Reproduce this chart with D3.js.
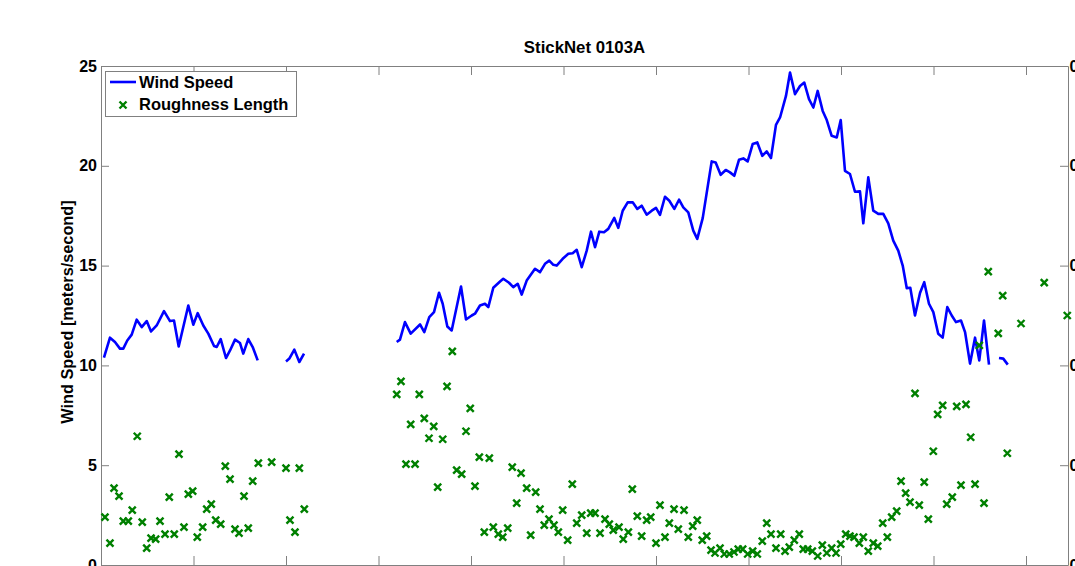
<!DOCTYPE html>
<html>
<head>
<meta charset="utf-8">
<script src="https://cdn.jsdelivr.net/npm/d3@7"></script>
<style>
  html, body { margin: 0; padding: 0; background: #fff; }
  svg { display: block; font-family: "Liberation Sans", Arial, sans-serif; }
</style>
</head>
<body>
<svg id="chart" width="1075" height="566"></svg>
<script>
// Elapsed time (hours) and 1-min wind speed (m/s); null marks missing records
const windHours = [
  0.032, 0.097, 0.151, 0.205, 0.241, 0.284, 0.332, 0.386, 0.440, 0.494, 0.541, 0.602,
  0.681, 0.746, 0.789, 0.840, 0.944, 0.998, 1.045, 1.106, 1.160, 1.222, 1.251, 1.294,
  1.351, 1.395, 1.449, 1.503, 1.538, 1.592, 1.640, 1.694, 1.770,
  1.845, 1.920,
  2.000, 2.036, 2.090, 2.144, 2.195, 2.700,
  3.197, 3.232, 3.286, 3.348, 3.449, 3.495, 3.549, 3.600, 3.654, 3.694, 3.744, 3.791,
  3.892, 3.946, 4.008, 4.043, 4.097, 4.151, 4.187, 4.241, 4.314, 4.349, 4.411, 4.457,
  4.505, 4.548, 4.602, 4.692, 4.746, 4.800, 4.846, 4.890, 4.926, 4.991, 5.052, 5.099,
  5.143, 5.197, 5.251, 5.297, 5.341, 5.387, 5.438, 5.484, 5.549, 5.592, 5.640, 5.694,
  5.748, 5.798, 5.845, 5.899, 5.954, 6.000, 6.043, 6.097, 6.144, 6.198, 6.249, 6.295,
  6.349, 6.403, 6.446, 6.505, 6.602, 6.645, 6.699, 6.754, 6.800, 6.846, 6.897, 6.944,
  6.991, 7.045, 7.095, 7.149, 7.197, 7.243, 7.297, 7.341, 7.405, 7.449, 7.503, 7.557,
  7.603, 7.654, 7.701, 7.748, 7.802, 7.846, 7.899, 7.954, 7.997, 8.043, 8.097, 8.151,
  8.205, 8.241, 8.295, 8.349, 8.403, 8.457, 8.511, 8.565, 8.619, 8.667, 8.711, 8.749,
  8.800, 8.854, 8.900, 8.951, 8.998, 9.051, 9.099, 9.149, 9.197, 9.243, 9.297, 9.341,
  9.395, 9.449, 9.495, 9.546, 9.600, 9.650,
  9.708, 9.754, 9.803, 9.870,
  9.946, 10.080,
  10.205, 10.300
];
const windSpeed = [
  10.39, 11.39, 11.17, 10.84, 10.84, 11.25, 11.54, 12.29, 11.92, 12.22, 11.70, 12.00,
  12.72, 12.22, 12.25, 10.95, 13.00, 12.04, 12.62, 12.00, 11.59, 10.97, 10.92, 11.32,
  10.37, 10.75, 11.29, 11.12, 10.59, 11.32, 10.92, 10.25, null,
  10.17, null,
  10.20, 10.34, 10.79, 10.17, 10.59, null,
  11.17, 11.29, 12.17, 11.59, 12.05, 11.67, 12.42, 12.67, 13.64, 13.09, 11.95, 11.75,
  13.95, 12.30, 12.50, 12.59, 13.00, 13.09, 12.92, 13.89, 14.20, 14.34, 14.14, 13.92,
  14.09, 13.55, 14.25, 14.84, 14.67, 15.09, 15.25, 15.04, 15.00, 15.34, 15.59, 15.62,
  15.79, 14.92, 15.75, 16.70, 15.92, 16.70, 16.67, 16.84, 17.39, 16.89, 17.75, 18.17,
  18.17, 17.84, 18.00, 17.55, 17.75, 17.89, 17.54, 18.45, 18.25, 17.84, 18.30, 17.92,
  17.67, 16.75, 16.34, 17.38, 20.22, 20.17, 19.55, 19.79, 19.67, 19.50, 20.30, 20.37,
  20.22, 21.09, 21.17, 20.50, 20.72, 20.39, 22.05, 22.42, 23.50, 24.67, 23.59, 24.00,
  24.17, 23.34, 22.92, 23.75, 22.75, 22.29, 21.50, 21.42, 22.29, 19.75, 19.59, 18.70,
  18.72, 17.12, 19.42, 17.75, 17.59, 17.59, 17.12, 16.25, 15.75, 15.00, 13.87, 13.89,
  12.50, 13.63, 14.17, 13.09, 12.67, 11.59, 11.39, 12.92, 12.50, 12.17, 12.25, 11.67,
  10.09, 11.39, 10.25, 12.25, 10.04, null,
  10.37, 10.34, 10.04, null,
  10.75, null,
  10.12, null
];

// Elapsed time (hours) and estimated surface roughness length (m)
const roughHours = [
  0.043, 0.097, 0.141, 0.195, 0.241, 0.295, 0.338, 0.392, 0.446, 0.494, 0.541, 0.591,
  0.638, 0.692, 0.738, 0.792, 0.843, 0.897, 0.944, 0.991, 1.041, 1.099, 1.143, 1.192,
  1.240, 1.294, 1.344, 1.395, 1.449, 1.492, 1.546, 1.592, 1.640, 1.701, 1.845, 2.000,
  2.043, 2.097, 2.144, 2.198,
  3.197, 3.243, 3.297, 3.348, 3.395, 3.441, 3.495, 3.546, 3.597, 3.640, 3.694, 3.741,
  3.798, 3.845, 3.899, 3.946, 3.992, 4.043, 4.090, 4.144, 4.198, 4.241, 4.295, 4.343,
  4.397, 4.446, 4.494, 4.541, 4.602, 4.645, 4.699, 4.746, 4.792, 4.843, 4.897, 4.944,
  4.991, 5.045, 5.095, 5.143, 5.197, 5.251, 5.294, 5.341, 5.395, 5.449, 5.495, 5.538,
  5.600, 5.646, 5.701, 5.744, 5.798, 5.845, 5.899, 5.943, 6.000, 6.043, 6.097, 6.144,
  6.195, 6.241, 6.303, 6.349, 6.397, 6.446, 6.500, 6.548, 6.595, 6.638, 6.692, 6.738,
  6.792, 6.843, 6.889, 6.937, 6.991, 7.045, 7.095, 7.149, 7.197, 7.243, 7.297, 7.348,
  7.395, 7.441, 7.495, 7.549, 7.592, 7.640, 7.690, 7.748, 7.798, 7.846, 7.899, 7.946,
  7.997, 8.051, 8.097, 8.141, 8.198, 8.241, 8.295, 8.349, 8.397, 8.451, 8.501, 8.548,
  8.602, 8.649, 8.699, 8.746, 8.800, 8.846, 8.900, 8.944, 8.998, 9.045, 9.099, 9.143,
  9.203, 9.251, 9.297, 9.351, 9.402, 9.449, 9.495, 9.546, 9.592, 9.700, 9.748, 9.798,
  9.946, 10.197, 10.446
];
const roughLength = [
  0.048, 0.022, 0.077, 0.069, 0.044, 0.044, 0.055, 0.129, 0.043, 0.017, 0.027, 0.026,
  0.044, 0.031, 0.068, 0.031, 0.111, 0.038, 0.071, 0.074, 0.028, 0.038, 0.056, 0.061,
  0.045, 0.041, 0.099, 0.086, 0.036, 0.032, 0.069, 0.037, 0.084, 0.102, 0.103, 0.097,
  0.045, 0.033, 0.097, 0.056,
  0.171, 0.184, 0.101, 0.141, 0.101, 0.171, 0.147, 0.127, 0.139, 0.078, 0.126, 0.179,
  0.214, 0.095, 0.091, 0.134, 0.157, 0.079, 0.108, 0.033, 0.107, 0.038, 0.031, 0.028,
  0.037, 0.098, 0.062, 0.092, 0.077, 0.030, 0.073, 0.056, 0.040, 0.046, 0.040, 0.033,
  0.055, 0.025, 0.081, 0.042, 0.050, 0.032, 0.052, 0.052, 0.032, 0.046, 0.041, 0.035,
  0.038, 0.026, 0.033, 0.076, 0.049, 0.029, 0.045, 0.048, 0.022, 0.060, 0.028, 0.042,
  0.056, 0.036, 0.055, 0.028, 0.039, 0.045, 0.025, 0.029, 0.015, 0.012, 0.017, 0.011,
  0.011, 0.013, 0.016, 0.016, 0.011, 0.014, 0.011, 0.024, 0.042, 0.031, 0.017, 0.031,
  0.014, 0.018, 0.025, 0.031, 0.016, 0.016, 0.014, 0.009, 0.020, 0.012, 0.017, 0.012,
  0.021, 0.031, 0.029, 0.028, 0.022, 0.028, 0.014, 0.022, 0.019, 0.042, 0.028, 0.048,
  0.054, 0.084, 0.072, 0.063, 0.172, 0.060, 0.083, 0.046, 0.114, 0.151, 0.160, 0.061,
  0.068, 0.159, 0.080, 0.161, 0.128, 0.081, 0.220, 0.062, 0.294, 0.232, 0.270, 0.112,
  0.242, 0.283, 0.250
];

const xDomain = [0, 10.454];
const speedTicks = [0, 5, 10, 15, 20, 25];
const roughTicks = [0, 0.1, 0.2, 0.3, 0.4, 0.5];
const hourTicks = [0, 1, 2, 3, 4, 5, 6, 7, 8, 9, 10];

const plot = { left: 101, right: 1068, top: 66, bottom: 565 };
const axisGray = "#808080";

const svg = d3.select("#chart");
svg.append("rect").attr("width", 1075).attr("height", 566).attr("fill", "#fff");

const x = d3.scaleLinear().domain(xDomain).range([plot.left, plot.right]);
const y = d3.scaleLinear().domain([0, 25]).range([plot.bottom, plot.top]);
const yR = d3.scaleLinear().domain([0, 0.5]).range([plot.bottom, plot.top]);

function styleAxis(g) {
  g.select(".domain").attr("stroke", axisGray).attr("stroke-width", 1);
  g.selectAll(".tick line").attr("stroke", axisGray).attr("stroke-width", 1);
  g.selectAll(".tick text")
    .attr("fill", "#000")
    .attr("font-size", 16)
    .attr("font-weight", "bold")
    .attr("font-family", "Liberation Sans, Arial, sans-serif");
}

// Bottom and top axes: inward ticks, no visible labels
svg.append("g")
  .attr("transform", `translate(0,${plot.bottom})`)
  .call(d3.axisBottom(x).tickValues(hourTicks).tickSizeInner(-9).tickSizeOuter(0).tickFormat(""))
  .call(styleAxis);
svg.append("g")
  .attr("transform", `translate(0,${plot.top})`)
  .call(d3.axisTop(x).tickValues(hourTicks).tickSizeInner(-9).tickSizeOuter(0).tickFormat(""))
  .call(styleAxis);

// Left axis: wind speed
svg.append("g")
  .attr("transform", `translate(${plot.left},0)`)
  .call(d3.axisLeft(y).tickValues(speedTicks).tickSizeInner(-8).tickSizeOuter(0).tickPadding(4).tickFormat(d3.format("d")))
  .call(styleAxis);

// Right axis: roughness length
svg.append("g")
  .attr("transform", `translate(${plot.right},0)`)
  .call(d3.axisRight(yR).tickValues(roughTicks).tickSizeInner(-8).tickSizeOuter(0).tickPadding(1.5).tickFormat(d3.format("g")))
  .call(styleAxis);

// Wind speed trace, broken where records are missing
const wind = windHours.map((t, i) => ({ t, v: windSpeed[i] }));
const line = d3.line()
  .defined(d => d.v != null)
  .x(d => x(d.t))
  .y(d => y(d.v));
svg.append("path")
  .datum(wind)
  .attr("d", line)
  .attr("fill", "none")
  .attr("stroke", "#0000ff")
  .attr("stroke-width", 2.6)
  .attr("stroke-linejoin", "round");

// Roughness length markers
const cross = "M-3.5,-3.5L3.5,3.5M-3.5,3.5L3.5,-3.5";
svg.append("g")
  .selectAll("path")
  .data(roughHours.map((t, i) => ({ t, r: roughLength[i] })))
  .join("path")
  .attr("transform", d => `translate(${x(d.t)},${yR(d.r)})`)
  .attr("d", cross)
  .attr("fill", "none")
  .attr("stroke", "#008000")
  .attr("stroke-width", 2.4);

// Title
svg.append("text")
  .attr("x", (plot.left + plot.right) / 2)
  .attr("y", 53)
  .attr("text-anchor", "middle")
  .attr("font-size", 16.8)
  .attr("font-weight", "bold")
  .text("StickNet 0103A");

// Left axis title
svg.append("text")
  .attr("transform", `translate(73,312) rotate(-90)`)
  .attr("text-anchor", "middle")
  .attr("font-size", 16.3)
  .attr("font-weight", "bold")
  .text("Wind Speed [meters/second]");

// Legend
const legend = svg.append("g");
legend.append("rect")
  .attr("x", 105.5).attr("y", 71.5)
  .attr("width", 191).attr("height", 45)
  .attr("fill", "#fff")
  .attr("stroke", axisGray);
legend.append("line")
  .attr("x1", 110).attr("x2", 136)
  .attr("y1", 82).attr("y2", 82)
  .attr("stroke", "#0000ff").attr("stroke-width", 2.6);
legend.append("path")
  .attr("transform", "translate(123,105)")
  .attr("d", cross)
  .attr("fill", "none")
  .attr("stroke", "#008000")
  .attr("stroke-width", 2.4);
legend.append("text")
  .attr("x", 139).attr("y", 88)
  .attr("font-size", 16.5).attr("font-weight", "bold")
  .text("Wind Speed");
legend.append("text")
  .attr("x", 139).attr("y", 110)
  .attr("font-size", 16.5).attr("font-weight", "bold")
  .text("Roughness Length");
</script>
</body>
</html>
